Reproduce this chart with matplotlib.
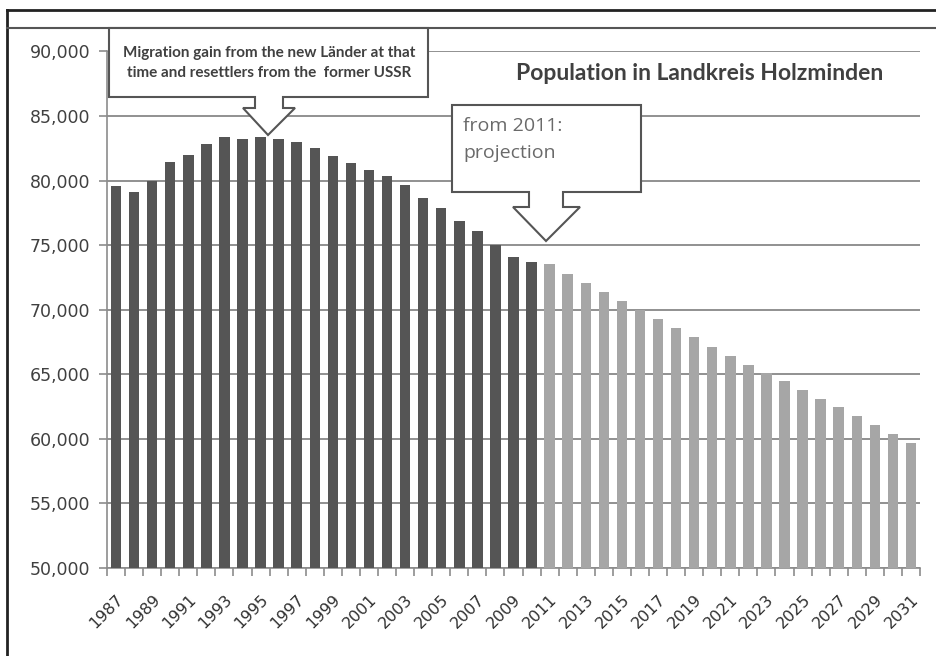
import matplotlib.pyplot as plt
from matplotlib.patches import Polygon
from matplotlib.lines import Line2D

# population of Landkreis Holzminden
years = list(range(1987, 2032))
observed = [79600, 79100, 80000, 81400, 81950, 82800, 83350, 83250, 83350, 83250,
            82950, 82500, 81900, 81350, 80800, 80350, 79650, 78650, 77850, 76900,
            76100, 75000, 74050, 73700]          # 1987-2010
projection = [73500, 72750, 72050, 71350, 70650, 70000, 69250, 68550, 67850, 67150,
              66450, 65750, 65100, 64450, 63750, 63050, 62450, 61750, 61050, 60350,
              59650]                             # 2011-2031
yticks = list(range(50000, 90001, 5000))

W, H = 937, 656


def fx(x):
    return x / W


def fy(y):
    return 1 - y / H


def pts(lst):
    return [(fx(x), fy(y)) for x, y in lst]


fig = plt.figure(figsize=(W / 100, H / 100), dpi=100)
ax = fig.add_axes([fx(107), fy(568), (920 - 107) / W, (568 - 51.4) / H])

n_obs = len(observed)
ax.bar(range(n_obs), observed, width=0.58, color='#555555', zorder=3)
ax.bar(range(n_obs, n_obs + len(projection)), projection, width=0.58,
       color='#a6a6a6', zorder=3)

ax.set_xlim(-0.5, len(years) - 0.5)
ax.set_ylim(50000, 90000)
ax.set_yticks(yticks)
ax.set_yticklabels([f'{v:,}' for v in yticks], fontsize=12.5, color='#404040')
ax.yaxis.grid(True, color='#888888', lw=1.3)
ax.set_axisbelow(True)

ax.set_xticks(range(0, len(years), 2))
ax.set_xticklabels([str(y) for y in years[::2]], rotation=45, ha='right',
                   rotation_mode='anchor', fontsize=11.5, color='#303030')
ax.set_xticks([i - 0.5 for i in range(len(years) + 1)], minor=True)
ax.tick_params(axis='x', which='major', length=0, pad=17)
ax.tick_params(axis='x', which='minor', length=6, color='#8c8c8c', width=1.2)
ax.tick_params(axis='y', length=6, color='#8c8c8c', width=1.2, pad=6)

for s in ['top', 'right']:
    ax.spines[s].set_visible(False)
for s in ['left', 'bottom']:
    ax.spines[s].set_color('#8c8c8c')
    ax.spines[s].set_linewidth(1.2)

# frame of the chart area
fig.add_artist(Line2D([fx(7), fx(7)], [fy(10), fy(656)], color='#222222', lw=2))
fig.add_artist(Line2D([fx(7), fx(940)], [fy(10), fy(10)], color='#222222', lw=2))
fig.add_artist(Line2D([fx(7), fx(940)], [fy(28), fy(28)], color='#555555', lw=1.5))

fig.text(fx(700), fy(73), 'Population in Landkreis Holzminden', ha='center',
         va='center', fontsize=16.5, fontweight='bold', color='#404040',
         family='Lato')

# callout 1
c1 = [(109, 28), (428, 28), (428, 97), (283, 97), (283, 108), (295, 108),
      (268, 135), (243, 108), (255, 108), (255, 97), (109, 97)]
fig.add_artist(Polygon(pts(c1), closed=True, transform=fig.transFigure,
                       fc='white', ec='#555555', lw=1.5, zorder=5))
fig.text(fx(269), fy(53), 'Migration gain from the new Länder at that',
         ha='center', va='center', fontsize=11, fontweight='bold',
         color='#404040', family='Lato', zorder=6)
fig.text(fx(269), fy(73), 'time and resettlers from the  former USSR',
         ha='center', va='center', fontsize=11, fontweight='bold',
         color='#404040', family='Lato', zorder=6)

# callout 2
c2 = [(452, 105), (641, 105), (641, 192), (563, 192), (563, 207), (580, 207),
      (546, 241), (513, 207), (529, 207), (529, 192), (452, 192)]
fig.add_artist(Polygon(pts(c2), closed=True, transform=fig.transFigure,
                       fc='white', ec='#555555', lw=1.5, zorder=5))
fig.text(fx(463), fy(126), 'from 2011:', ha='left', va='center', fontsize=14,
         color='#6a6a6a', family='Open Sans', zorder=6)
fig.text(fx(463), fy(153), 'projection', ha='left', va='center', fontsize=14,
         color='#6a6a6a', family='Open Sans', zorder=6)

fig.savefig('out.png', dpi=100)
